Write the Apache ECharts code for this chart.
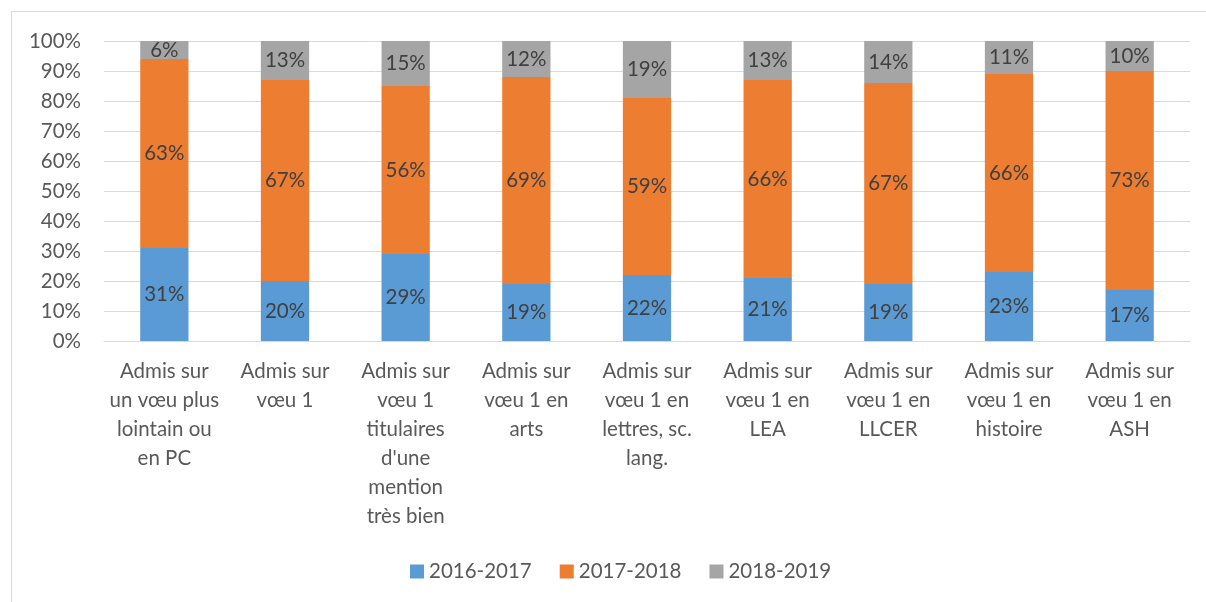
<!DOCTYPE html>
<html>
<head>
<meta charset="utf-8">
<script src="https://cdn.jsdelivr.net/npm/echarts@6/dist/echarts.min.js"></script>
<style>
  html, body { margin: 0; padding: 0; background: #fff; }
  #frame { position: absolute; left: 11px; top: 11px; width: 1300px; height: 700px; border: 1px solid #d9d9d9; box-sizing: border-box; }
  #chart { position: absolute; left: 0; top: 0; width: 1206px; height: 602px; }
</style>
</head>
<body>
<div id="frame"></div>
<div id="chart"></div>
<script>
// Admission categories (x axis)
const categories = [
  "Admis sur\nun vœu plus\nlointain ou\nen PC",
  "Admis sur\nvœu 1",
  "Admis sur\nvœu 1\ntitulaires\nd'une\nmention\ntrès bien",
  "Admis sur\nvœu 1 en\narts",
  "Admis sur\nvœu 1 en\nlettres, sc.\nlang.",
  "Admis sur\nvœu 1 en\nLEA",
  "Admis sur\nvœu 1 en\nLLCER",
  "Admis sur\nvœu 1 en\nhistoire",
  "Admis sur\nvœu 1 en\nASH"
];

// Share per school year, in percent
const s2016 = [31, 20, 29, 19, 22, 21, 19, 23, 17];
const s2017 = [63, 67, 56, 69, 59, 66, 67, 66, 73];
const s2018 = [6, 13, 15, 12, 19, 13, 14, 11, 10];

const seriesNames = ["2016-2017", "2017-2018", "2018-2019"];
const seriesColors = ["#5b9bd5", "#ed7d31", "#a5a5a5"];

const FONT = "Lato";
const FS = 20.5;

function makeSeries(name, data, color) {
  return {
    name: name,
    type: "bar",
    stack: "total",
    barWidth: "40%",
    data: data,
    itemStyle: { color: color },
    label: {
      show: true,
      position: "inside",
      formatter: p => p.value + "%",
      color: "#404040",
      fontFamily: FONT,
      fontSize: FS
    },
    emphasis: { disabled: true }
  };
}

const chart = echarts.init(document.getElementById("chart"));
chart.setOption({
  animation: false,
  textStyle: { fontFamily: FONT },
  grid: { left: 104, right: 16, top: 41, bottom: 261, containLabel: false },
  legend: {
    bottom: 15,
    left: 405,
    itemWidth: 14,
    itemHeight: 14,
    itemGap: 28,
    icon: "rect",
    textStyle: { color: "#595959", fontFamily: FONT, fontSize: FS },
    data: seriesNames
  },
  xAxis: {
    type: "category",
    data: categories,
    axisLine: { lineStyle: { color: "#d9d9d9", width: 1 } },
    axisTick: { show: false },
    axisLabel: {
      interval: 0,
      margin: 16,
      color: "#595959",
      fontFamily: FONT,
      fontSize: FS,
      lineHeight: 29,
      align: "center"
    }
  },
  yAxis: {
    type: "value",
    min: 0,
    max: 100,
    interval: 10,
    axisLine: { show: false },
    axisTick: { show: false },
    splitLine: { lineStyle: { color: "#d9d9d9", width: 1 } },
    axisLabel: {
      margin: 23,
      formatter: v => v + "%",
      color: "#595959",
      fontFamily: FONT,
      fontSize: FS
    }
  },
  series: [
    makeSeries(seriesNames[0], s2016, seriesColors[0]),
    makeSeries(seriesNames[1], s2017, seriesColors[1]),
    makeSeries(seriesNames[2], s2018, seriesColors[2])
  ]
});
</script>
</body>
</html>
